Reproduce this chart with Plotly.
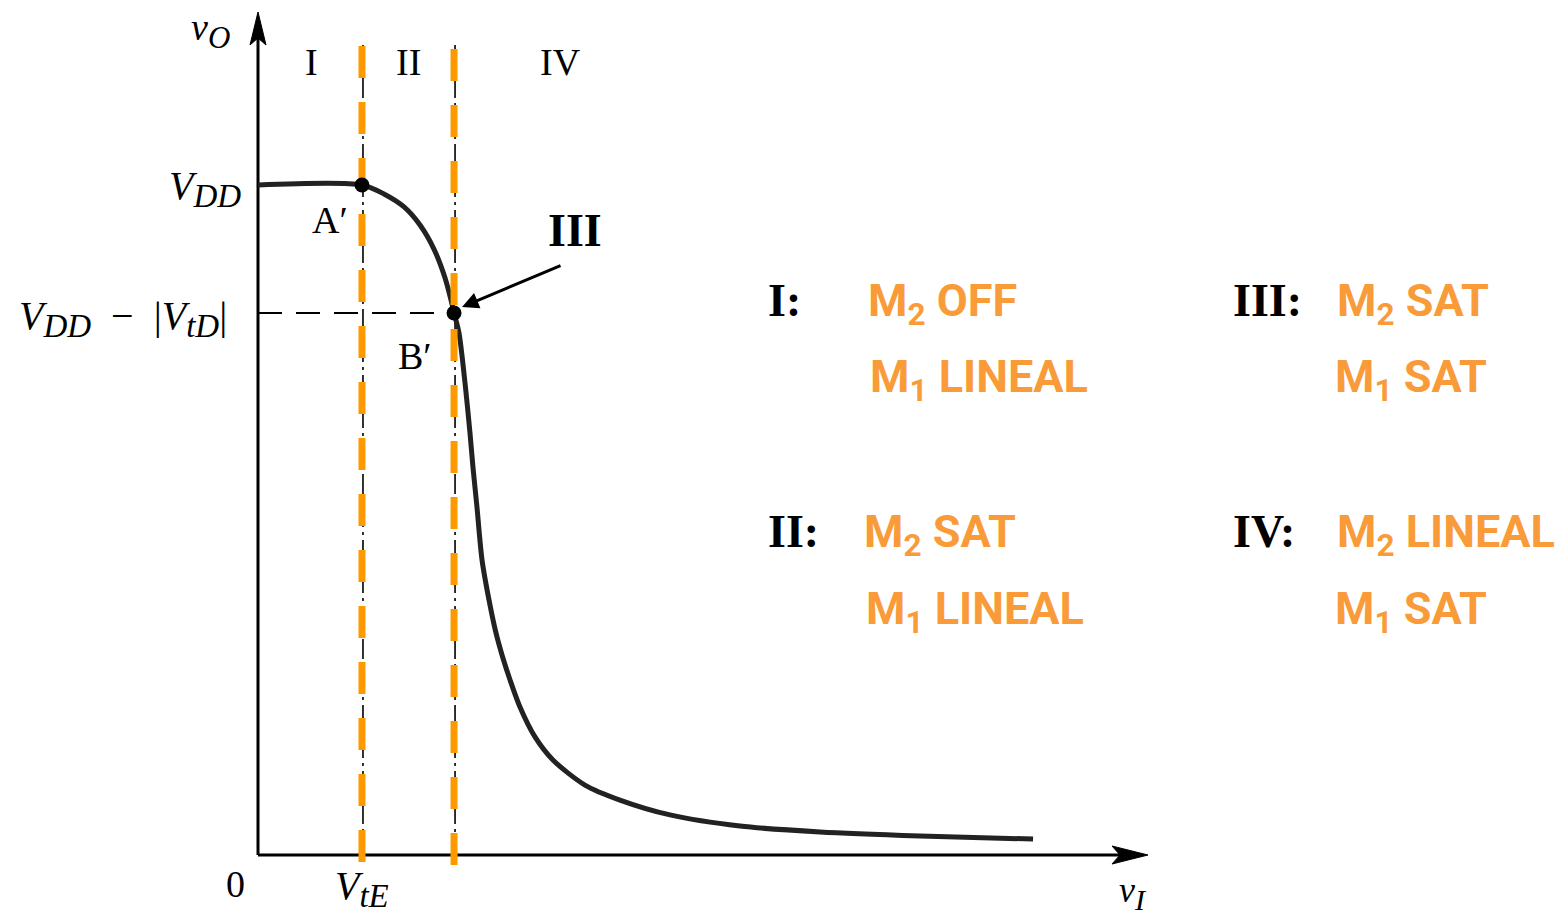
import plotly.graph_objects as go

# ---- transfer characteristic data (volts) ----
VDD = 5.0
V_TE = 0.776           # threshold of the enhancement driver (point A')
VI_B = 1.463           # input at point B'
VO_B = 4.045           # output at point B' = VDD - |VtD|

vi_curve = [0.0, 0.776, 0.940, 1.090, 1.209, 1.313, 1.396, 1.440, 1.463,
            1.500, 1.545, 1.582, 1.604, 1.634, 1.672, 1.724, 1.776, 1.821,
            1.881, 1.955, 2.067, 2.201, 2.440, 2.701, 3.075, 3.597, 4.194,
            4.940, 5.784]
vo_curve = [5.0, 5.0, 4.933, 4.836, 4.701, 4.522, 4.306, 4.142, 4.045,
            3.896, 3.522, 3.149, 2.896, 2.597, 2.201, 1.903, 1.657, 1.493,
            1.306, 1.104, 0.881, 0.709, 0.522, 0.410, 0.299, 0.216, 0.172,
            0.142, 0.119]

point_vi = [V_TE, VI_B]
point_vo = [VDD, VO_B]

region_labels = ["I", "II", "IV"]
state_rows = [
    ("I:", "M<sub>2</sub> OFF", "M<sub>1</sub> LINEAL"),
    ("II:", "M<sub>2</sub> SAT", "M<sub>1</sub> LINEAL"),
    ("III:", "M<sub>2</sub> SAT", "M<sub>1</sub> SAT"),
    ("IV:", "M<sub>2</sub> LINEAL", "M<sub>1</sub> SAT"),
]

# ---- canvas geometry ----
W, H = 1564, 916
SCALE = 134.0            # pixels per volt on both axes
X0_PX, Y0_PX = 258, 855  # origin position on the canvas
x_range = [-X0_PX / SCALE, (W - X0_PX) / SCALE]
y_range = [(Y0_PX - H) / SCALE, Y0_PX / SCALE]


def px(v):       # pixel length -> volts
    return v / SCALE


def fx(p):       # canvas x pixel -> paper fraction
    return p / W


def fy(p):       # canvas y pixel -> paper fraction
    return 1 - p / H


ORANGE_LINE = "#FF9900"
ORANGE_TEXT = "#F99B38"
SERIF = "Liberation Serif"

fig = go.Figure()

# axes
x_tip = x_range[0] + px(1148)
y_tip = y_range[1] - px(12)
fig.add_trace(go.Scatter(x=[0, x_tip - px(10)], y=[0, 0], mode="lines",
                         line=dict(color="black", width=3), hoverinfo="skip"))
fig.add_trace(go.Scatter(x=[0, 0], y=[0, y_tip - px(10)], mode="lines",
                         line=dict(color="black", width=3), hoverinfo="skip"))
# arrowheads
fig.add_shape(type="path", xref="x", yref="y", fillcolor="black",
              line=dict(color="black", width=1),
              path=(f"M {x_tip},0 L {x_tip - px(36)},{px(9)} "
                    f"L {x_tip - px(28)},0 L {x_tip - px(36)},{-px(9)} Z"))
fig.add_shape(type="path", xref="x", yref="y", fillcolor="black",
              line=dict(color="black", width=1),
              path=(f"M 0,{y_tip} L {px(8)},{y_tip - px(33)} "
                    f"L 0,{y_tip - px(26)} L {-px(8)},{y_tip - px(33)} Z"))

top_v = y_range[1] - px(45)

# thin dash-dot region boundaries
for xv in point_vi:
    fig.add_trace(go.Scatter(x=[xv + px(1), xv + px(1)], y=[top_v, 0], mode="lines",
                             line=dict(color="black", width=1.6,
                                       dash="20px,5px,3px,5px"),
                             hoverinfo="skip"))

# horizontal reference at VDD - |VtD|
fig.add_trace(go.Scatter(x=[0, VI_B], y=[VO_B, VO_B], mode="lines",
                         line=dict(color="black", width=2, dash="24px,14px"),
                         hoverinfo="skip"))

# transfer curve
fig.add_trace(go.Scatter(x=vi_curve, y=vo_curve, mode="lines",
                         line=dict(color="#222222", width=5, shape="spline",
                                   smoothing=0.8),
                         hoverinfo="skip"))

# orange dashed region boundaries
for xv, top_off in zip(point_vi, [46, 49]):
    fig.add_trace(go.Scatter(x=[xv, xv],
                             y=[y_range[1] - px(top_off), -px(top_off - 39)],
                             mode="lines",
                             line=dict(color=ORANGE_LINE, width=7, dash="32px,24px"),
                             hoverinfo="skip"))

# A' and B'
fig.add_trace(go.Scatter(x=point_vi, y=point_vo, mode="markers",
                         marker=dict(color="black", size=15), hoverinfo="skip"))

ann = []


def text(xp, yp, s, size, anchor="center", bold=False, color="black",
         family=SERIF):
    if bold:
        s = f"<b>{s}</b>"
    ann.append(dict(x=fx(xp), y=fy(yp), xref="paper", yref="paper", text=s,
                    showarrow=False, xanchor=anchor, yanchor="middle",
                    font=dict(family=family, size=size, color=color)))


def sub(s, size=33):
    return f"<sub><span style='font-size:{size}px'><i>{s}</i></span></sub>"


# axis labels
text(210, 30, "<i>v</i>" + sub("O", 31), 38)
text(205, 188, "<i>V</i>" + sub("DD"), 40)
text(123, 318,
     "<i>V</i>" + sub("DD") + "&nbsp;&nbsp;−&nbsp;&nbsp;|<i>V</i>" + sub("tD") + "|",
     40)
text(235, 884, "0", 38)
text(362, 888, "<i>V</i>" + sub("tE"), 40)
text(1133, 893, "<i>v</i>" + sub("I", 30), 36)

# region names along the top
for lab, xp in zip(region_labels, [311, 408, 560]):
    text(xp, 62, lab, 38)

text(330, 220, "A′", 38)
text(415, 356, "B′", 38)
text(575, 231, "III", 46, bold=True)

# arrow pointing at B'
ann.append(dict(x=VI_B + px(8), y=VO_B + px(6), xref="x", yref="y",
                ax=px(562 - X0_PX), ay=px(Y0_PX - 265), axref="x", ayref="y",
                showarrow=True, arrowhead=2, arrowsize=1.1, arrowwidth=3,
                arrowcolor="black", text=""))

# operating-state legend
cols = {"I:": (766, 866), "II:": (766, 862), "III:": (1231, 1335),
        "IV:": (1231, 1335)}
rows = {"I:": 300, "III:": 300, "II:": 531, "IV:": 531}
for name, m2, m1 in state_rows:
    xl, xs = cols[name]
    yr = rows[name]
    text(xl, yr, name, 46, anchor="left", bold=True)
    text(xs, yr + 3, m2, 45, anchor="left", bold=True, color=ORANGE_TEXT,
         family="Roboto")
    text(xs + 2 if xs < 1300 else xs - 2, yr + 80, m1, 45, anchor="left",
         bold=True, color=ORANGE_TEXT, family="Roboto")

fig.update_layout(
    width=W, height=H, margin=dict(l=0, r=0, t=0, b=0),
    paper_bgcolor="white", plot_bgcolor="white", showlegend=False,
    xaxis=dict(range=x_range, visible=False, fixedrange=True),
    yaxis=dict(range=y_range, visible=False, fixedrange=True),
    annotations=ann,
)

fig.write_html("out.html")
